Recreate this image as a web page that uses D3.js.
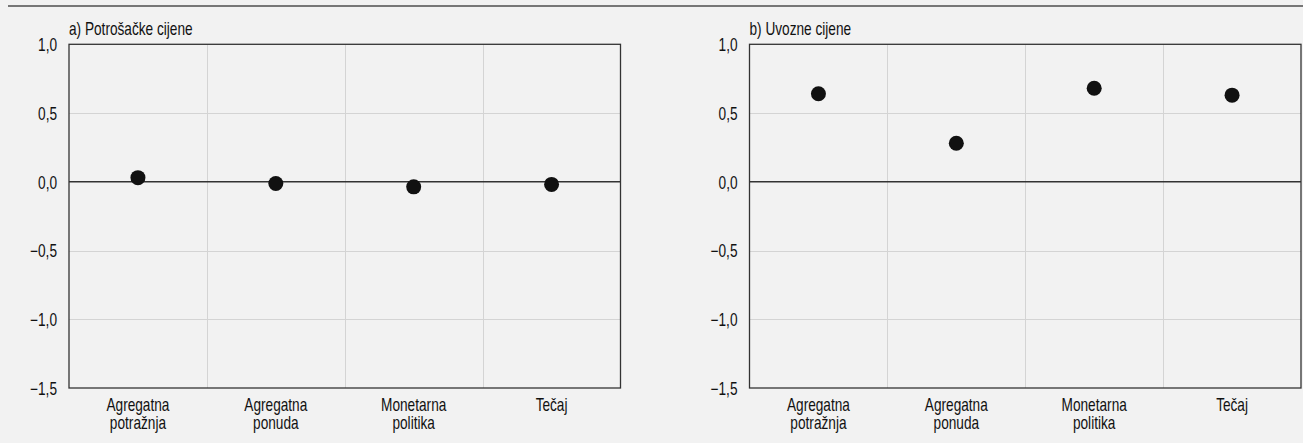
<!DOCTYPE html>
<html>
<head>
<meta charset="utf-8">
<script src="https://cdn.jsdelivr.net/npm/d3@7"></script>
<style>
  html, body { margin: 0; padding: 0; background: #f2f2f2; }
  svg { display: block; }
  text { font-family: "Liberation Sans", Arial, sans-serif; fill: #111; }
</style>
</head>
<body>
<svg id="chart" width="1303" height="443"></svg>
<script>
const categories = [["Agregatna", "potražnja"], ["Agregatna", "ponuda"], ["Monetarna", "politika"], ["Tečaj"]];
const categoryKeys = ["Agregatna potražnja", "Agregatna ponuda", "Monetarna politika", "Tečaj"];
const panelTitles = ["a) Potrošačke cijene", "b) Uvozne cijene"];
const consumerPrices = [0.03, -0.012, -0.037, -0.019];
const importPrices = [0.64, 0.28, 0.68, 0.63];
const yTicks = [1.0, 0.5, 0.0, -0.5, -1.0, -1.5];
const yDomain = [-1.5, 1.0];

(function () {
const svg = d3.select("#chart");
const W = 1303;
const SX = 0.78;       // horizontal condensing factor
const FS = "17.5px";

// top rule
svg.append("line").attr("x1", 8).attr("x2", W).attr("y1", 6).attr("y2", 6)
  .attr("stroke", "#777").attr("stroke-width", 2);

const panels = [
  { title: panelTitles[0], values: consumerPrices, left: 69, right: 620.5 },
  { title: panelTitles[1], values: importPrices, left: 749.5, right: 1301 }
];
const plotTop = 44.3, plotBottom = 388;
const fmt = v => d3.format(".1f")(v).replace(".", ",").replace("-", "\u2212");

function condText(parent, x, y, anchor) {
  return parent.append("text")
    .attr("transform", `translate(${x},${y}) scale(${SX},1)`)
    .attr("text-anchor", anchor)
    .style("font-size", FS);
}

panels.forEach(p => {
  const g = svg.append("g");
  const x = d3.scaleBand().domain(categoryKeys).range([p.left, p.right]).padding(0);
  const y = d3.scaleLinear().domain(yDomain).range([plotBottom, plotTop]);

  // horizontal gridlines
  g.selectAll("line.hgrid").data(yTicks.filter(t => t !== 0 && t !== 1.0 && t !== -1.5)).enter()
    .append("line").attr("class", "hgrid")
    .attr("x1", p.left).attr("x2", p.right)
    .attr("y1", d => Math.round(y(d)) + 0.5).attr("y2", d => Math.round(y(d)) + 0.5)
    .attr("stroke", "#d4d4d4").attr("stroke-width", 1);

  // vertical gridlines at band boundaries
  g.selectAll("line.vgrid").data(categoryKeys.slice(1)).enter()
    .append("line").attr("class", "vgrid")
    .attr("x1", d => Math.round(x(d)) + 0.5).attr("x2", d => Math.round(x(d)) + 0.5)
    .attr("y1", plotTop).attr("y2", plotBottom)
    .attr("stroke", "#d4d4d4").attr("stroke-width", 1);

  // zero line
  g.append("line").attr("x1", p.left).attr("x2", p.right)
    .attr("y1", y(0)).attr("y2", y(0))
    .attr("stroke", "#333").attr("stroke-width", 1.4);

  // frame
  g.append("rect").attr("x", p.left).attr("y", plotTop)
    .attr("width", p.right - p.left).attr("height", plotBottom - plotTop)
    .attr("fill", "none").attr("stroke", "#333").attr("stroke-width", 1.3);

  // y axis labels
  const yAxis = d3.axisLeft(y).tickValues(yTicks).tickSize(0).tickPadding(12).tickFormat(fmt);
  const ya = g.append("g").attr("transform", `translate(${p.left},0)`).call(yAxis);
  ya.select(".domain").remove();
  ya.selectAll("text")
    .style("font-size", FS)
    .style("font-family", '"Liberation Sans", Arial, sans-serif')
    .attr("fill", "#111")
    .attr("x", -12 / SX)
    .attr("dy", "0.36em")
    .attr("transform", `scale(${SX},1)`);

  // x labels (two lines each, stacked as separate texts)
  categories.forEach((lines, i) => {
    const cx = x(categoryKeys[i]) + x.bandwidth() / 2;
    lines.forEach((l, j) => {
      condText(g, cx, 411 + j * 18, "middle").text(l);
    });
  });

  // title
  condText(g, p.left, 35, "start").text(p.title);

  // dots
  g.selectAll("circle").data(p.values).enter().append("circle")
    .attr("cx", (d, i) => x(categoryKeys[i]) + x.bandwidth() / 2)
    .attr("cy", d => y(d))
    .attr("r", 7.5).attr("fill", "#111");
});
})();
</script>
</body>
</html>
